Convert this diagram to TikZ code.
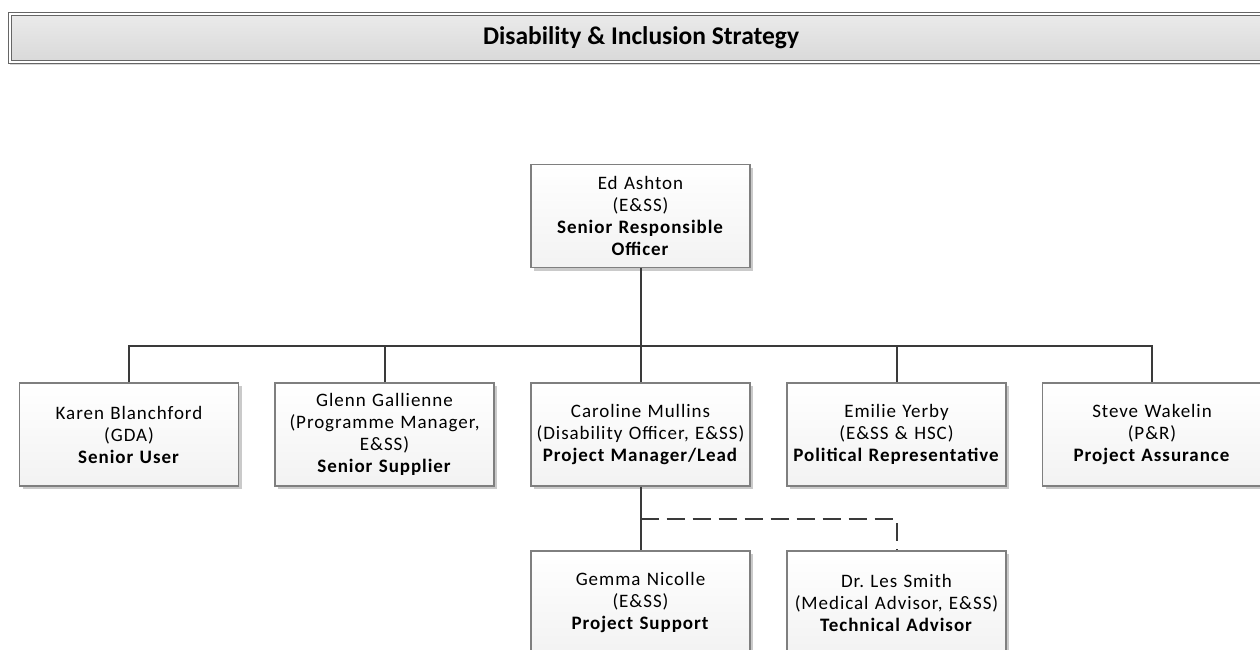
\documentclass[tikz,border=0pt]{standalone}
\usepackage{fontspec}
\setmainfont{Carlito}
\newfontfamily\boxfont{Carlito}[LetterSpace=5]
\newfontfamily\titlefont{Carlito}
\usetikzlibrary{shadows}
\definecolor{conncol}{HTML}{3A3A3A}
\definecolor{bordercol}{HTML}{7F7F7F}
\tikzset{
  box/.style={draw=bordercol, line width=1.3pt, top color=white, bottom color=black!5,
    minimum width=219pt, minimum height=103pt, inner sep=0pt, align=center,
    text width=219pt, font=\boxfont\fontsize{19}{22}\selectfont,
    drop shadow={shadow xshift=3pt, shadow yshift=-3pt, fill=black!35, opacity=0.6}},
  titlebar/.style={draw=black!60, line width=1.1pt, double=white, double distance=1.4pt,
    top color=black!8, bottom color=black!15,
    minimum width=1262pt, minimum height=48pt, inner sep=0pt,
    font=\titlefont\bfseries\fontsize{25.5}{30}\selectfont,
    drop shadow={shadow xshift=0pt, shadow yshift=-3pt, fill=black!25, opacity=0.6}},
  conn/.style={draw=conncol, line width=2pt},
  dconn/.style={conn, dash pattern=on 18pt off 8pt}
}
\begin{document}
\frenchspacing
\begin{tikzpicture}[x=1pt,y=-1pt]
\useasboundingbox (0,0) rectangle (1260,650);
\node[titlebar] (title) at (641,38) {Disability \& Inclusion Strategy};

\node[box] (top) at (640.5,216) {Ed Ashton\\(E\&SS)\\\textbf{Senior Responsible}\\\textbf{Officer}};

\node[box] (u1) at (129,434.5) {Karen Blanchford\\(GDA)\\\textbf{Senior User}};
\node[box] (u2) at (384.5,434.5) {Glenn Gallienne\\(Programme Manager,\\E\&SS)\\\textbf{Senior Supplier}};
\node[box] (u3) at (640.5,434.5) {Caroline Mullins\\(Disability Officer, E\&SS)\\\textbf{Project Manager/Lead}};
\node[box] (u4) at (896.5,434.5) {Emilie Yerby\\(E\&SS \& HSC)\\\textbf{Political Representative}};
\node[box] (u5) at (1152,434.5) {Steve Wakelin\\(P\&R)\\\textbf{Project Assurance}};

\node[box] (b1) at (640.5,602.5) {Gemma Nicolle\\(E\&SS)\\\textbf{Project Support}};
\node[box] (b2) at (896.5,602.5) {Dr. Les Smith\\(Medical Advisor, E\&SS)\\\textbf{Technical Advisor}};

\coordinate (jn) at (640.5,346);
\coordinate (dj) at (640.5,519);

\draw[conn] (top.south) -- (u3.north);
\draw[conn] (u1.north) -- (u1.north |- jn) -- (u5.north |- jn) -- (u5.north);
\draw[conn] (u2.north) -- (u2.north |- jn);
\draw[conn] (u4.north) -- (u4.north |- jn);
\draw[conn] (u3.south) -- (b1.north);
\draw[dconn] (dj) -| (b2.north);
\end{tikzpicture}
\end{document}
